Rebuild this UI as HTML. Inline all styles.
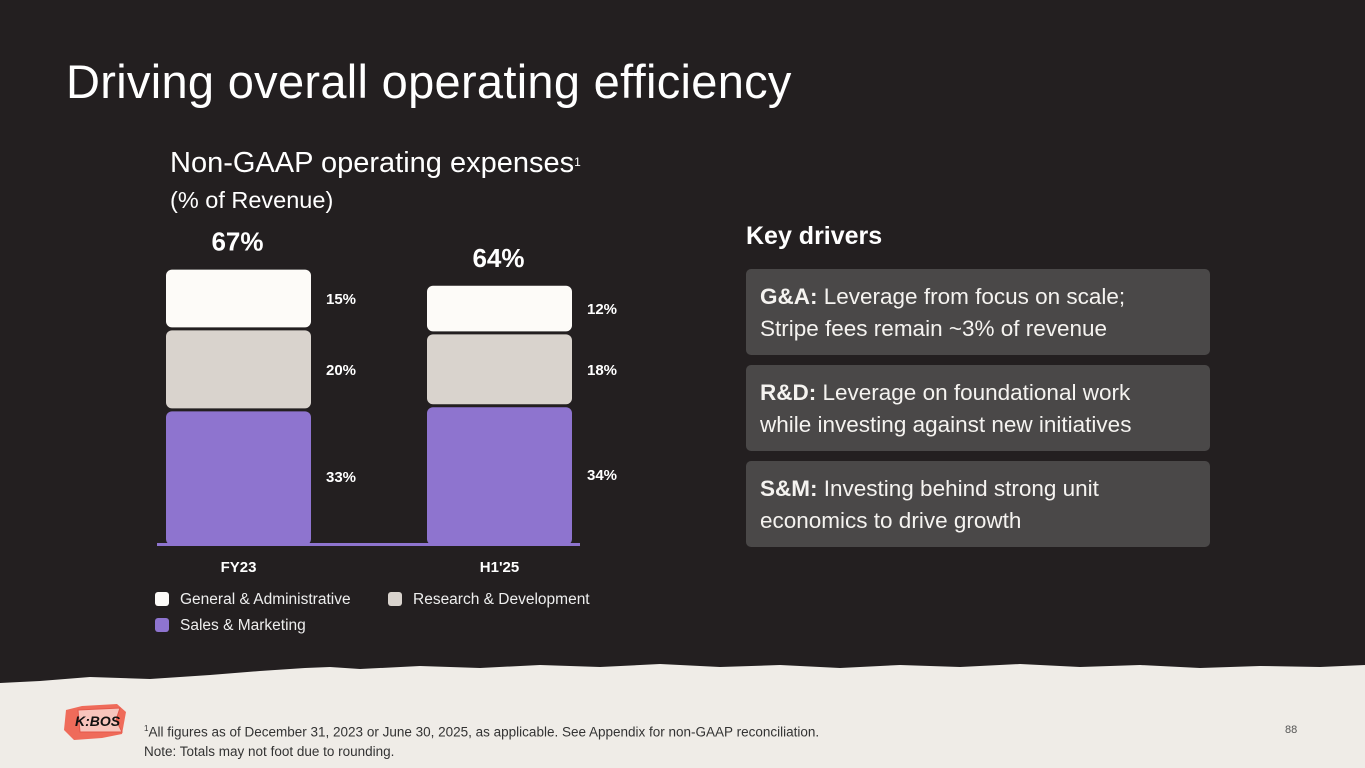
<!DOCTYPE html>
<html><head><meta charset="utf-8">
<style>
*{margin:0;padding:0;box-sizing:border-box}
body{width:1365px;height:768px;overflow:hidden;background:#231f20;font-family:"Liberation Sans",sans-serif;color:#fff;position:relative}
.abs{position:absolute}
h1{position:absolute;left:66px;top:54px;font-size:47px;font-weight:400;letter-spacing:0.3px;white-space:nowrap}
.ct{left:170px;top:145px;font-size:29px;line-height:36px;white-space:nowrap}
.ct sup{font-size:12px;vertical-align:top;position:relative;top:-1px}
.kd{left:746px;top:222px;font-size:25px;font-weight:700}
.box{position:absolute;left:746px;width:464px;height:86px;background:#4a4848;border-radius:5px;padding:12px 14px;font-size:22.5px;line-height:32px;color:#f5f3f0;white-space:nowrap}
.foot{left:144px;top:719px;font-size:13.5px;color:#333;line-height:19px;white-space:nowrap}
.pg{left:1285px;top:724px;font-size:11px;color:#555}
.leg{font-size:15.5px;color:#eee;white-space:nowrap}
.sw{display:inline-block;width:14px;height:14px;border-radius:3px;vertical-align:-2px;margin-right:11px}
</style></head><body>
<h1>Driving overall operating efficiency</h1>
<div class="abs ct">Non-GAAP operating expenses<sup>1</sup><br><span style="font-size:23.5px">(% of Revenue)</span></div>
<svg class="abs" style="left:0;top:0" width="700" height="660" id="chart"></svg>
<div class="abs leg" style="left:155px;top:591px"><span class="sw" style="background:#fdfbf8"></span>General &amp; Administrative</div>
<div class="abs leg" style="left:388px;top:591px"><span class="sw" style="background:#d9d3cd"></span>Research &amp; Development</div>
<div class="abs leg" style="left:155px;top:617px"><span class="sw" style="background:#8e74cf"></span>Sales &amp; Marketing</div>
<div class="abs kd">Key drivers</div>
<div class="box" style="top:269px"><b>G&amp;A:</b> Leverage from focus on scale;<br>Stripe fees remain ~3% of revenue</div>
<div class="box" style="top:365px"><b>R&amp;D:</b> Leverage on foundational work<br>while investing against new initiatives</div>
<div class="box" style="top:461px"><b>S&amp;M:</b> Investing behind strong unit<br>economics to drive growth</div>
<svg class="abs" style="left:0;top:655px" width="1365" height="113">
<path d="M0 28 L40 26 L90 22 L150 24 L210 20 L260 16 L305 13 L330 12 L360 14 L420 11 L480 13 L540 10 L600 12 L660 9 L720 12 L780 10 L840 13 L900 10 L960 12 L1020 9 L1080 12 L1140 10 L1200 13 L1260 11 L1320 12 L1365 10 L1365 113 L0 113Z" fill="#efece7"/>
</svg>
<svg class="abs" style="left:62px;top:700px" width="68" height="44">
<path d="M4 10 L20 6 L55 4 L64 12 L60 34 L40 38 L12 40 L2 30Z" fill="#ef6b5a"/>
<path d="M16 10 L58 8 L54 20 L60 32 L18 32Z" fill="#f7c4bc" stroke="#e4574a"/>
<text x="13" y="26" font-size="14" font-family="Liberation Sans,sans-serif" fill="#111" font-style="italic" font-weight="700">K:BOS</text>
</svg>
<div class="abs foot"><sup style="font-size:8px">1</sup>All figures as of December 31, 2023 or June 30, 2025, as applicable. See Appendix for non-GAAP reconciliation.<br>Note: Totals may not foot due to rounding.</div>
<div class="abs pg">88</div>
<script>
const categories = ["FY23", "H1'25"];
const totals = ["67%", "64%"];
const smValues = [33, 34];
const rdValues = [20, 18];
const gaValues = [15, 12];
const svg = document.getElementById('chart');
const NS = 'http://www.w3.org/2000/svg';
const base = 545, scale = 4.05, gap = 3, barW = 145;
const xs = i => 166 + i * 261;
const yh = v => v * scale;
function mk(tag, attrs){const e=document.createElementNS(NS,tag);for(const k in attrs)e.setAttribute(k,attrs[k]);svg.appendChild(e);return e;}
const axis = mk('rect',{x:157,y:543,width:423,height:3,fill:'#8e74cf'});


const series = [[smValues,'#8e74cf','sm'],[rdValues,'#d9d3cd','rd'],[gaValues,'#fdfbf8','ga']];
categories.forEach((c,i)=>{
  let y = base;
  series.forEach(([vals,col,key],s)=>{
    const h = yh(vals[i]);
    const top = y - h;
    const r = mk('rect',{x:xs(i),y:top,width:barW,height:h-(s?gap:0),rx:6,fill:col});
    
    
    const t = mk('text',{x:xs(i)+barW+15,y:top+h/2+4,'font-size':15,'font-weight':700,fill:'#fff','font-family':'Liberation Sans,sans-serif'});
    t.textContent = vals[i]+'%';
    
    
    y = top;
  });
  const tt = mk('text',{x:xs(i)+barW/2-1,y:y-19,'font-size':26,'font-weight':700,fill:'#fff','text-anchor':'middle','font-family':'Liberation Sans,sans-serif'});
  tt.textContent = totals[i];
  
  
  const cl = mk('text',{x:xs(i)+barW/2,y:572,'font-size':15,'font-weight':700,fill:'#fff','text-anchor':'middle','font-family':'Liberation Sans,sans-serif'});
  cl.textContent = c;
  
  
});
</script>
</body></html>
